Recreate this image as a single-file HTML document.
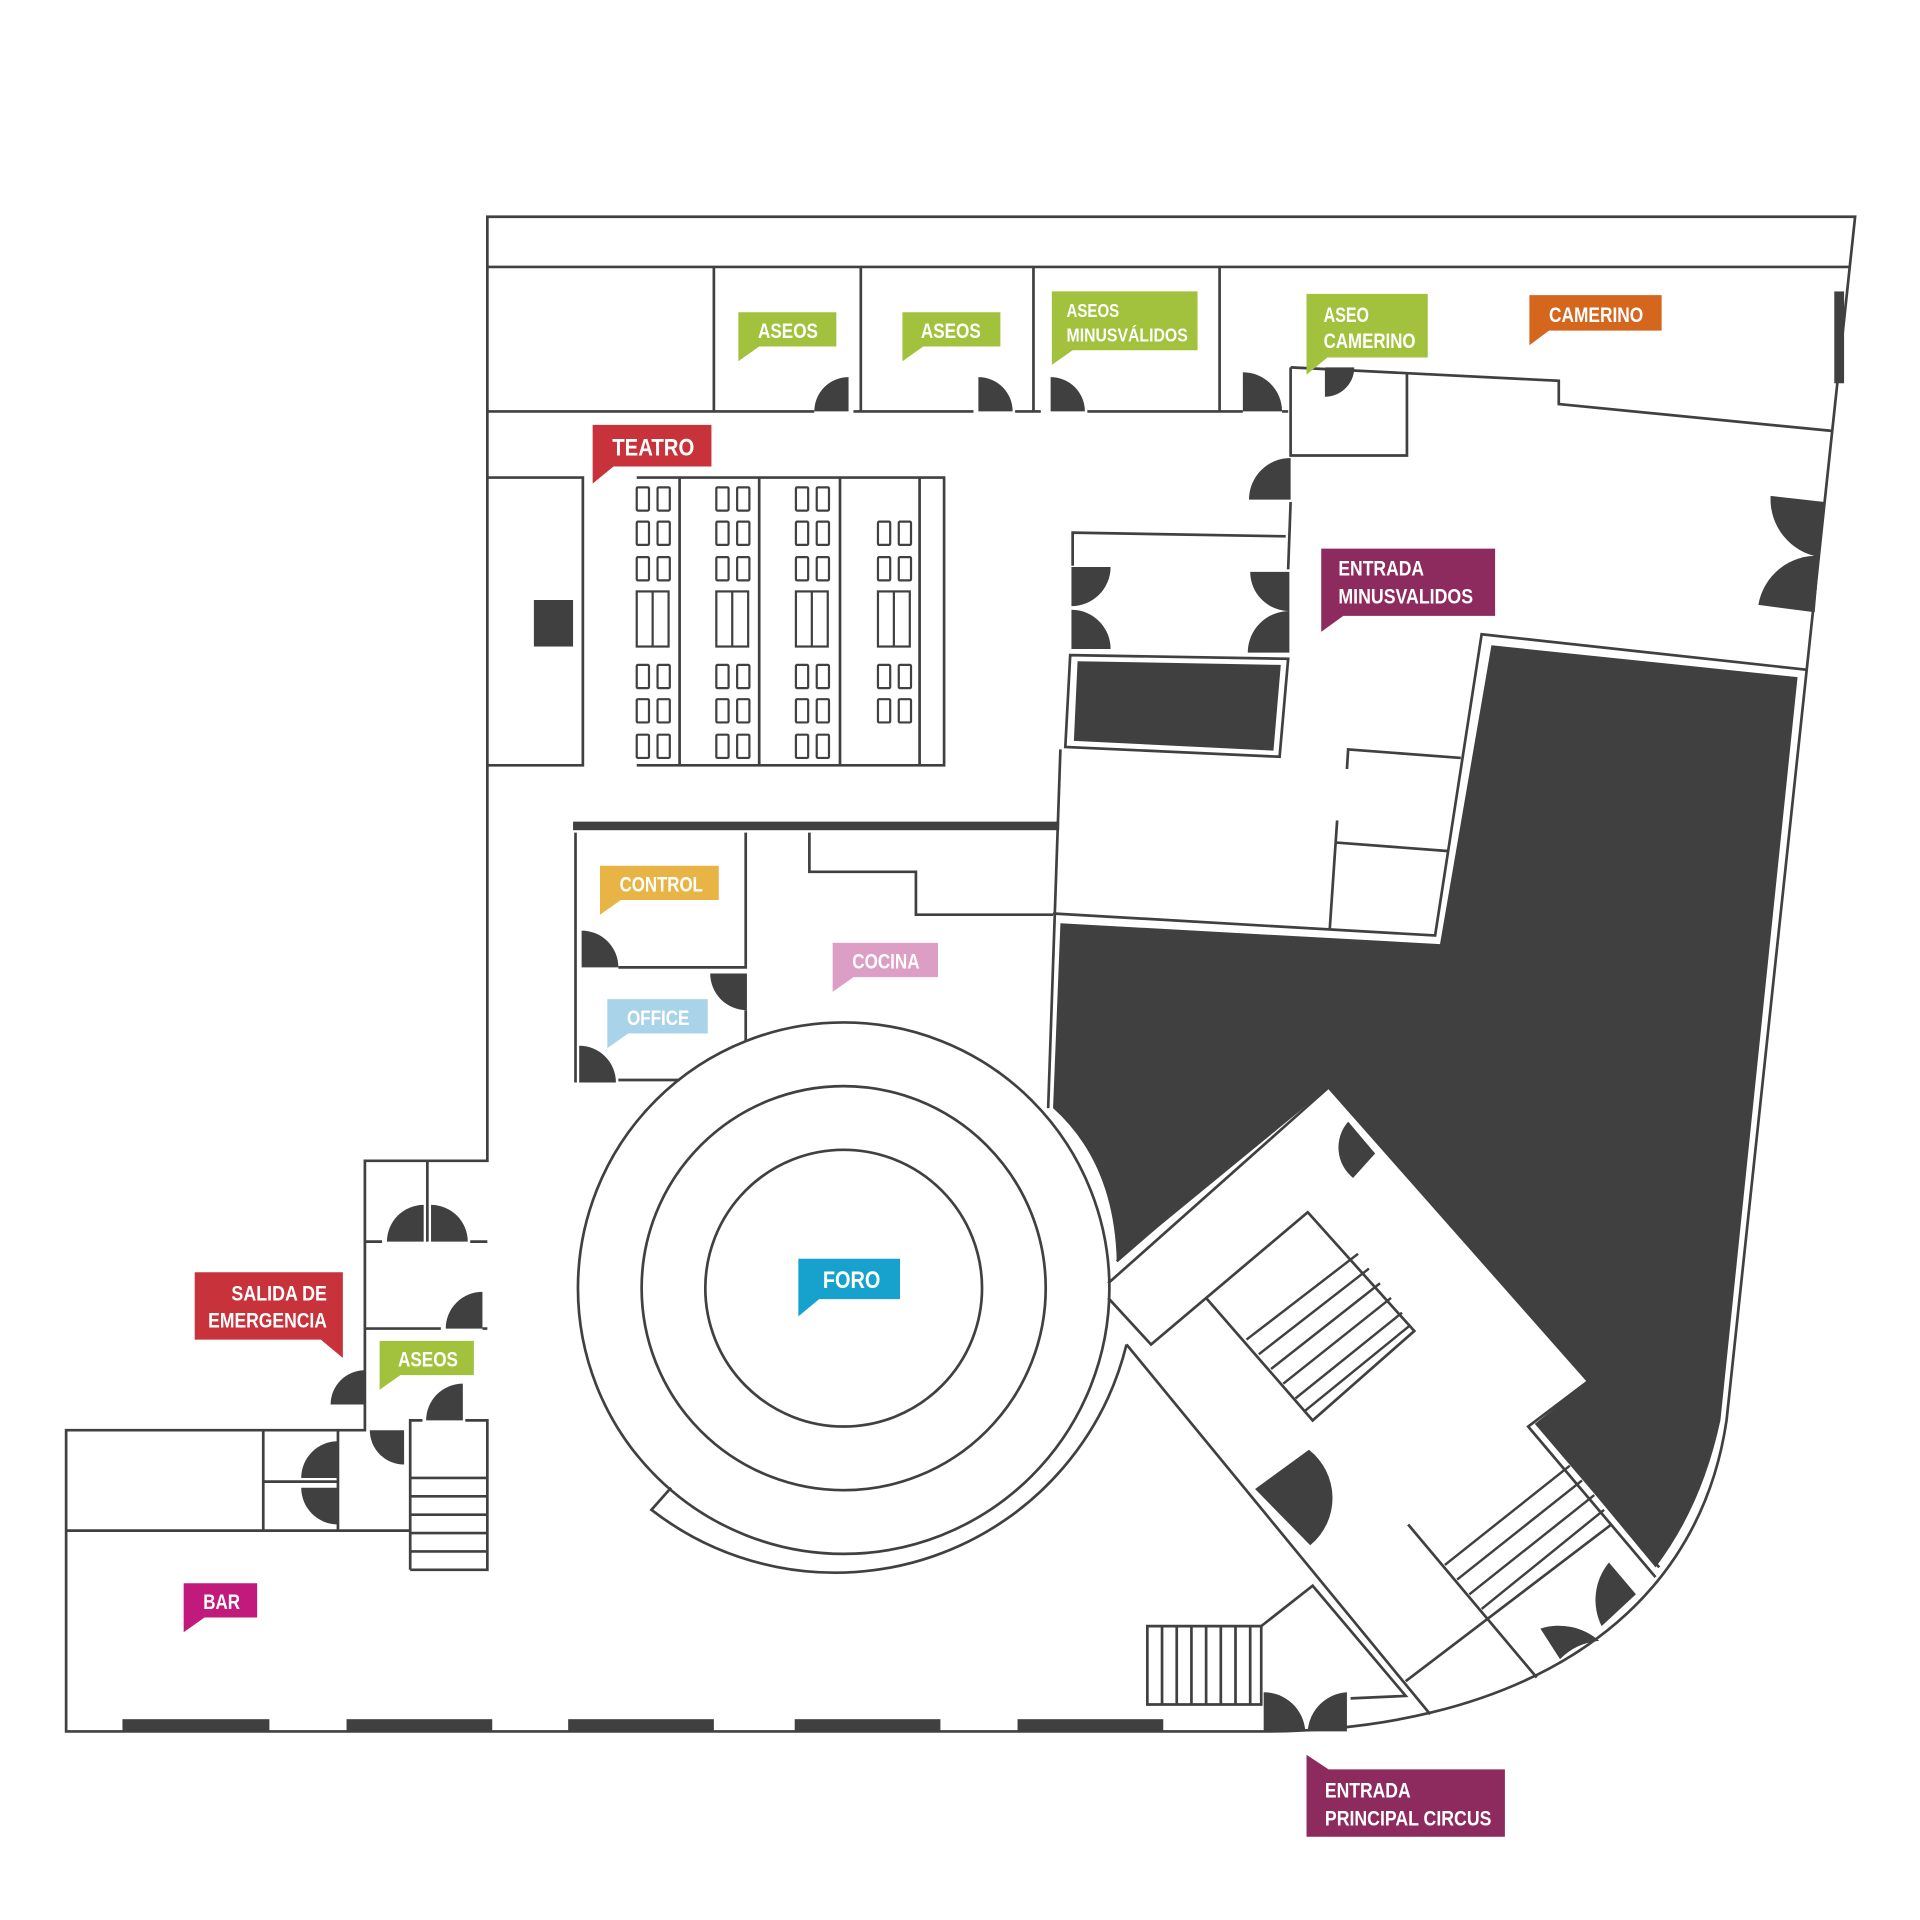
<!DOCTYPE html>
<html><head><meta charset="utf-8"><style>
html,body{margin:0;padding:0;background:#fff}
svg{display:block}
text{font-family:"Liberation Sans Narrow","Liberation Sans",sans-serif;font-weight:bold;fill:#fff;font-size:17px}
</style></head><body>
<svg width="1920" height="1920" viewBox="0 0 1568 1568" xmlns="http://www.w3.org/2000/svg">
<g fill="none" stroke="#404040" stroke-width="2.2">
<path d="M398 177 H1515 L1410 1160 C1385 1330 1230 1414 1030 1414 H54 V1168 H298 V948 H398 Z"/>
<path d="M398 218 H1510"/>
<path d="M398 336 H665 M697 336 H795 M829 336 H850 M888 336 H1015 M1047 336 H1052"/>
<path d="M583 218 V336 M703 218 V336 M844 218 V336 M996 218 V336"/>
<path d="M1054 300 L1273 311 V330 L1497 352"/>
<path d="M1054 300 V372 H1149 V305"/>
<path d="M1054 410 L1052 465"/>
<path d="M876 462 V435 L1050 438"/>
<path d="M398 390 H476 V625 H398"/>
<path d="M520 390 H771 V625 H520 M555 390 V625 M620 390 V625 M686 390 V625 M751 390 V625"/>
<path d="M470 680 V884 M609 680 V790 H505 M609 825 V850 M505 882 H555"/>
<path d="M661 680 V712 H748 V747 H860"/>
<path d="M866 612 L856 905"/>
<path d="M874 535 L1052 538 L1045 618 L870 610 Z"/>
<path d="M1100 628 L1101 612 L1193 619 M1092 670 L1086 758 M1090 688 L1182 695"/>
<path d="M860 746 L1172 764 L1210 518 L1476 547"/>
<path d="M298 1014 H312 M384 1014 H398 M349 948 V1014 M298 1085 H360 M394 1085 H398"/>
<path d="M215 1168 V1250 M54 1250 H335 M215 1210 H276 M276 1168 V1250"/>
<path d="M335 1282 V1160 H345 M380 1160 H398 V1282 H335 M335 1207 H398 M335 1222 H398 M335 1237 H398 M335 1252 H398 M335 1267 H398"/>
<circle cx="689" cy="1052" r="217"/>
<circle cx="689" cy="1052" r="165"/>
<circle cx="689" cy="1052" r="113"/>
<path d="M548 1215 L532 1233 A245 245 0 0 0 920 1098"/>
<path d="M905 1048 L1085 888 L1297 1128 L1248 1165 L1352 1288"/>
<path d="M912 1030 L1085 880 L1300 1127 L1255 1163 L1355 1280"/>
<path d="M905 1060 L940 1098 L1068 990 L1155 1087 L1072 1160 L985 1060"/>
<path d="M920 1098 L1168 1400 M1150 1245 L1255 1370 M1148 1373 L1316 1245"/>
<path d="M1030 1328 L1072 1295 L1148 1385 L1103 1387"/>
<path d="M937 1328 H1030 V1392 H937 Z M949 1328 V1392 M961 1328 V1392 M973 1328 V1392 M985 1328 V1392 M997 1328 V1392 M1009 1328 V1392 M1021 1328 V1392"/>
</g>
<g stroke="#404040" stroke-width="2">
<line x1="1018" y1="1094" x2="1109" y2="1024"/>
<line x1="1028" y1="1106" x2="1118" y2="1036"/>
<line x1="1038" y1="1118" x2="1127" y2="1048"/>
<line x1="1048" y1="1130" x2="1136" y2="1060"/>
<line x1="1058" y1="1142" x2="1145" y2="1072"/>
<line x1="1066" y1="1152" x2="1152" y2="1082"/>
<line x1="1180" y1="1278" x2="1282" y2="1197"/>
<line x1="1190" y1="1290" x2="1292" y2="1209"/>
<line x1="1200" y1="1302" x2="1302" y2="1221"/>
<line x1="1210" y1="1314" x2="1310" y2="1233"/>
</g>
<g fill="#404040">
<rect x="436" y="490" width="32" height="38"/>
<rect x="468" y="671" width="397" height="7"/>
<path d="M880 540 L1046 543 L1040 613 L877 605 Z"/>
<path d="M1218 527 L1468 553 L1405 1160 Q1390 1230 1352 1280 L1255 1163 L1297 1128 L1085 888 L912 1030 Q910 950 860 905 L866 754 L1176 771 Z"/>
<rect x="100" y="1404" width="120" height="10"/>
<rect x="283" y="1404" width="119" height="10"/>
<rect x="464" y="1404" width="119" height="10"/>
<rect x="649" y="1404" width="119" height="10"/>
<rect x="831" y="1404" width="119" height="10"/>
<rect x="1498" y="238" width="8" height="75"/>
<path d="M693 336 h-28 a28 28 0 0 1 28 -28z"/>
<path d="M799 336 v-28 a28 28 0 0 1 28 28z"/>
<path d="M858 336 v-28 a28 28 0 0 1 28 28z"/>
<path d="M1015 336 v-32 a32 32 0 0 1 32 32z"/>
<path d="M1082 300 h24 a24 24 0 0 1 -24 24z"/>
<path d="M1054 408 h-34 a34 34 0 0 1 34 -34z"/>
<path d="M875 463 h32 a32 32 0 0 1 -32 32z"/>
<path d="M875 530 v-32 a32 32 0 0 1 32 32z"/>
<path d="M1053 467 h-32 a32 32 0 0 0 32 32z"/>
<path d="M1053 533 h-34 a34 34 0 0 1 34 -34z"/>
<path d="M1490 410 l-44 -5 a48 48 0 0 0 40 50z"/>
<path d="M1482 500 l-46 -6 a48 48 0 0 1 50 -40z"/>
<path d="M475 790 v-30 a30 30 0 0 1 30 30z"/>
<path d="M610 795 h-30 a30 30 0 0 0 30 30z"/>
<path d="M473 884 v-30 a30 30 0 0 1 30 30z"/>
<path d="M346 1014 h-30 a30 30 0 0 1 30 -30z"/>
<path d="M352 1014 v-30 a30 30 0 0 1 30 30z"/>
<path d="M394 1085 h-30 a30 30 0 0 1 30 -30z"/>
<path d="M298 1147 h-28 a28 28 0 0 1 28 -28z"/>
<path d="M378 1160 h-30 a30 30 0 0 1 30 -30z"/>
<path d="M330 1168 h-28 a28 28 0 0 0 28 28z"/>
<path d="M276 1207 h-30 a30 30 0 0 1 30 -30z"/>
<path d="M276 1215 h-30 a30 30 0 0 0 30 30z"/>
<path d="M1066 1414 h-34 v-32 a34 34 0 0 1 34 32z"/>
<path d="M1068 1414 h32 v-32 a34 34 0 0 0 -32 32z"/>
<path d="M1105 962 l18 -20 l-22 -26 a32 32 0 0 0 4 46z"/>
<path d="M1025 1216 l44 -32 a50 50 0 0 1 1 78z"/>
<path d="M1258 1330 l16 25 a50 50 0 0 1 32 -15 a50 50 0 0 0 -48 -10z"/>
<path d="M1336 1302 l-22 -26 a48 48 0 0 0 -6 52z"/>
</g>
<g fill="none" stroke="#404040" stroke-width="1.8">
<g id="c1">
<rect x="520" y="398" width="10" height="19" rx="1"/><rect x="537" y="398" width="10" height="19" rx="1"/>
<rect x="520" y="426" width="10" height="19" rx="1"/><rect x="537" y="426" width="10" height="19" rx="1"/>
<rect x="520" y="455" width="10" height="19" rx="1"/><rect x="537" y="455" width="10" height="19" rx="1"/>
<rect x="520" y="543" width="10" height="19" rx="1"/><rect x="537" y="543" width="10" height="19" rx="1"/>
<rect x="520" y="571" width="10" height="19" rx="1"/><rect x="537" y="571" width="10" height="19" rx="1"/>
<rect x="520" y="600" width="10" height="19" rx="1"/><rect x="537" y="600" width="10" height="19" rx="1"/>
<rect x="520" y="483" width="26" height="45"/><line x1="533" y1="483" x2="533" y2="528"/>
</g>
<use href="#c1" x="65"/>
<use href="#c1" x="130"/>
<g transform="translate(197 0)">
<rect x="520" y="426" width="10" height="19" rx="1"/><rect x="537" y="426" width="10" height="19" rx="1"/>
<rect x="520" y="455" width="10" height="19" rx="1"/><rect x="537" y="455" width="10" height="19" rx="1"/>
<rect x="520" y="543" width="10" height="19" rx="1"/><rect x="537" y="543" width="10" height="19" rx="1"/>
<rect x="520" y="571" width="10" height="19" rx="1"/><rect x="537" y="571" width="10" height="19" rx="1"/>
<rect x="520" y="483" width="26" height="45"/><line x1="533" y1="483" x2="533" y2="528"/>
</g>
</g>
<g>
<path fill="#c8323a" d="M484 347 h97 v34 h-80 l-17 14z"/><text x="500" y="372" style="font-size:20px" textLength="67" lengthAdjust="spacingAndGlyphs">TEATRO</text>
<path fill="#a2c13d" d="M603 255 h80 v28 h-63 l-17 12z"/><text x="619" y="276" textLength="49" lengthAdjust="spacingAndGlyphs">ASEOS</text>
<path fill="#a2c13d" d="M737 255 h80 v28 h-63 l-17 12z"/><text x="752" y="276" textLength="49" lengthAdjust="spacingAndGlyphs">ASEOS</text>
<path fill="#a2c13d" d="M859 238 h119 v48 h-102 l-17 12z"/><text x="871" y="259" style="font-size:15px" textLength="43" lengthAdjust="spacingAndGlyphs">ASEOS</text><text x="871" y="279" style="font-size:15px" textLength="99" lengthAdjust="spacingAndGlyphs">MINUSVÁLIDOS</text>
<path fill="#a2c13d" d="M1067 240 h99 v52 h-82 l-17 14z"/><text x="1081" y="263" textLength="37" lengthAdjust="spacingAndGlyphs">ASEO</text><text x="1081" y="284" textLength="75" lengthAdjust="spacingAndGlyphs">CAMERINO</text>
<path fill="#d4661e" d="M1249 241 h108 v29 h-92 l-16 12z"/><text x="1265" y="263" textLength="77" lengthAdjust="spacingAndGlyphs">CAMERINO</text>
<path fill="#8e2b5e" d="M1079 448 h142 v55 h-124 l-18 13z"/><text x="1093" y="470" textLength="70" lengthAdjust="spacingAndGlyphs">ENTRADA</text><text x="1093" y="493" textLength="110" lengthAdjust="spacingAndGlyphs">MINUSVALIDOS</text>
<path fill="#e8b445" d="M490 707 h97 v28 h-80 l-17 12z"/><text x="506" y="728" textLength="68" lengthAdjust="spacingAndGlyphs">CONTROL</text>
<path fill="#dc9ec5" d="M680 770 h86 v28 h-69 l-17 12z"/><text x="696" y="791" textLength="55" lengthAdjust="spacingAndGlyphs">COCINA</text>
<path fill="#a8d3e9" d="M496 816 h82 v28 h-65 l-17 12z"/><text x="512" y="837" textLength="51" lengthAdjust="spacingAndGlyphs">OFFICE</text>
<path fill="#16a2cc" d="M652 1028 h83 v33 h-66 l-17 14z"/><text x="672" y="1052" style="font-size:20px" textLength="47" lengthAdjust="spacingAndGlyphs">FORO</text>
<path fill="#c8323a" d="M159 1039 h121 v70 l-18 -15 h-103z"/><text x="189" y="1062" textLength="78" lengthAdjust="spacingAndGlyphs">SALIDA DE</text><text x="170" y="1084" textLength="97" lengthAdjust="spacingAndGlyphs">EMERGENCIA</text>
<path fill="#a2c13d" d="M310 1095 h77 v28 h-60 l-17 12z"/><text x="325" y="1116" textLength="49" lengthAdjust="spacingAndGlyphs">ASEOS</text>
<path fill="#c2197d" d="M150 1293 h60 v28 h-43 l-17 12z"/><text x="166" y="1314" textLength="30" lengthAdjust="spacingAndGlyphs">BAR</text>
<path fill="#8e2b5e" d="M1067 1433 l18 12 h144 v55 h-162z"/><text x="1082" y="1468" textLength="70" lengthAdjust="spacingAndGlyphs">ENTRADA</text><text x="1082" y="1491" textLength="136" lengthAdjust="spacingAndGlyphs">PRINCIPAL CIRCUS</text>
</g>
</svg>
</body></html>
